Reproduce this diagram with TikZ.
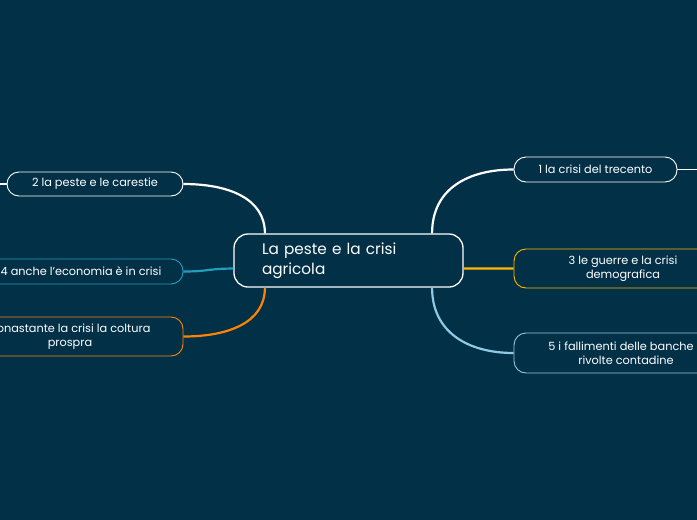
\documentclass[tikz,border=0pt]{standalone}
\usepackage{fontspec}
\setmainfont{Poppins}
\usetikzlibrary{positioning}
\definecolor{bg}{HTML}{023047}
\definecolor{sky}{HTML}{219EBC}
\definecolor{pale}{HTML}{8ECAE6}
\definecolor{gold}{HTML}{FFB703}
\definecolor{orange}{HTML}{FB8500}

\begin{document}
\begin{tikzpicture}[x=1pt,y=-1pt,every node/.style={font=\fontsize{11.3}{14.5}\selectfont,align=center,text=white},
topic/.style={draw=white,fill=bg,rounded corners=12pt,line width=0.9pt,inner sep=0pt},
link/.style={line width=2.2pt},
stub/.style={white,line width=1.6pt}]
\useasboundingbox (0,0) rectangle (697,520);
\clip (0,0) rectangle (697,520);
\fill[bg] (0,0) rectangle (697,520);
% central topic
\node[topic,line width=1.3pt,rounded corners=14pt,minimum width=229pt,minimum height=53pt,text width=173pt,align=left,font=\fontsize{15.3}{19.5}\selectfont] (cen) at (348.5,260.5) {La peste e la crisi\\agricola};
% right side
\node[topic,minimum width=163pt,minimum height=25pt] (n1) at (595.5,169.5) {1 la crisi del trecento};
\node[topic,draw=gold,minimum width=218pt,minimum height=39pt] (n3) at (623,268.5) {3 le guerre e la crisi\\demografica};
\node[topic,draw=pale,minimum width=224pt,minimum height=40pt] (n5) at (626,353) {5 i fallimenti delle banche e\\rivolte contadine};
% left side
\node[topic,minimum width=176pt,minimum height=24pt] (n2) at (95,184) {2 la peste e le carestie};
\node[topic,draw=sky,minimum width=204pt,minimum height=25pt] (n4) at (81,271.5) {4 anche l'economia è in crisi};
\node[topic,draw=orange,minimum width=226pt,minimum height=39pt] (n6) at (70,336.5) {nonastante la crisi la coltura\\prospra};
% branches
\draw[link,white] (cen.162) .. controls +(0,-35) and +(45,0) .. (n2.east);
\draw[link,sky] (cen.184) .. controls +(-25,0) and +(25,0) .. (n4.east);
\draw[link,orange] (cen.198) .. controls +(0,35) and +(45,0) .. (n6.east);
\draw[link,white] (cen.18) .. controls +(0,-45) and +(-45,0) .. (n1.west);
\draw[link,gold] (cen.356) .. controls +(25,0) and +(-25,0) .. (n3.west);
\draw[link,pale] (cen.-18) .. controls +(0,45) and +(-45,0) .. (n5.west);
\coordinate (r1) at (700,169.5);
\coordinate (l2) at (-3,184);
\draw[stub] (n1.east) -- (r1);
\draw[stub] (n2.west) -- (l2);
\end{tikzpicture}
\end{document}
